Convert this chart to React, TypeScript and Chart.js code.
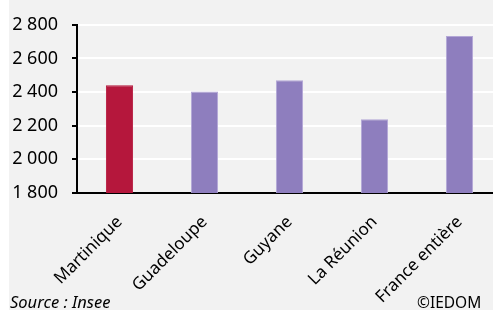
import React, { useEffect, useRef } from "react";
import { Chart, registerables } from "chart.js";

Chart.register(...registerables);

const categories = ["Martinique", "Guadeloupe", "Guyane", "La Réunion", "France entière"];
const values = [2441, 2404, 2470, 2239, 2733];
const barColors = ["#B5173C", "#8E7EBE", "#8E7EBE", "#8E7EBE", "#8E7EBE"];
const borderColors = ["#B5173C", "#B3A7D6", "#B3A7D6", "#B3A7D6", "#B3A7D6"];
const yMin = 1800;
const yMax = 2800;
const yStep = 200;
const sourceText = "Source : Insee";
const creditText = "©IEDOM";

const FONT = "'Noto Sans', 'DejaVu Sans', sans-serif";

export default function App() {
  const canvasRef = useRef<HTMLCanvasElement | null>(null);

  useEffect(() => {
    const canvas = canvasRef.current;
    if (!canvas) return;
    const chart = new Chart(canvas, {
      type: "bar",
      data: {
        labels: categories,
        datasets: [
          {
            data: values,
            backgroundColor: barColors,
            borderColor: borderColors,
            borderWidth: 1,
            barPercentage: 0.32,
            categoryPercentage: 1,
          },
        ],
      },
      options: {
        animation: false,
        responsive: false,
        maintainAspectRatio: false,
        layout: { padding: { top: 9, left: 0, right: 0, bottom: 0 } },
        plugins: {
          legend: { display: false },
          tooltip: { enabled: false },
        },
        scales: {
          x: {
            grid: { display: false, drawTicks: false },
            border: { display: true, color: "#000", width: 2 },
            ticks: {
              color: "#000",
              font: { family: FONT, size: 17 },
              minRotation: 45,
              maxRotation: 45,
              padding: 19,
              autoSkip: false,
            },
            afterFit: (scale: any) => {
              scale.height = 117;
            },
          },
          y: {
            min: yMin,
            max: yMax,
            grid: {
              color: "#FFFFFF",
              lineWidth: 2,
              tickColor: "#000",
              tickLength: 5,
              tickWidth: 2,
            },
            border: { display: true, color: "#000", width: 2 },
            ticks: {
              stepSize: yStep,
              color: "#000",
              font: { family: FONT, size: 18 },
              padding: 14,
              callback: (v: any) => {
                const n = Number(v);
                const s = String(Math.round(n));
                return s.replace(/\B(?=(\d{3})+(?!\d))/g, " ");
              },
            },
            afterFit: (scale: any) => {
              scale.width = 68;
            },
          },
        },
      },
    });
    return () => chart.destroy();
  }, []);

  return (
    <div
      style={{
        position: "absolute",
        left: 9,
        top: 0,
        width: 484,
        height: 310,
        overflow: "hidden",
        background: "#F2F2F2",
      }}
    >
      <canvas
        ref={canvasRef}
        width={493}
        height={310}
        style={{ position: "absolute", left: 0, top: 0, width: 493, height: 310 }}
      />
      <div
        style={{
          position: "absolute",
          left: 1,
          top: 294,
          fontFamily: FONT,
          fontStyle: "italic",
          fontSize: 16.5,
          lineHeight: "16.5px",
          color: "#000",
          whiteSpace: "nowrap",
        }}
      >
        {sourceText}
      </div>
      <div
        style={{
          position: "absolute",
          left: 408,
          top: 295,
          fontFamily: FONT,
          fontSize: 15.5,
          lineHeight: "15.5px",
          color: "#000",
          whiteSpace: "nowrap",
        }}
      >
        {creditText}
      </div>
    </div>
  );
}
